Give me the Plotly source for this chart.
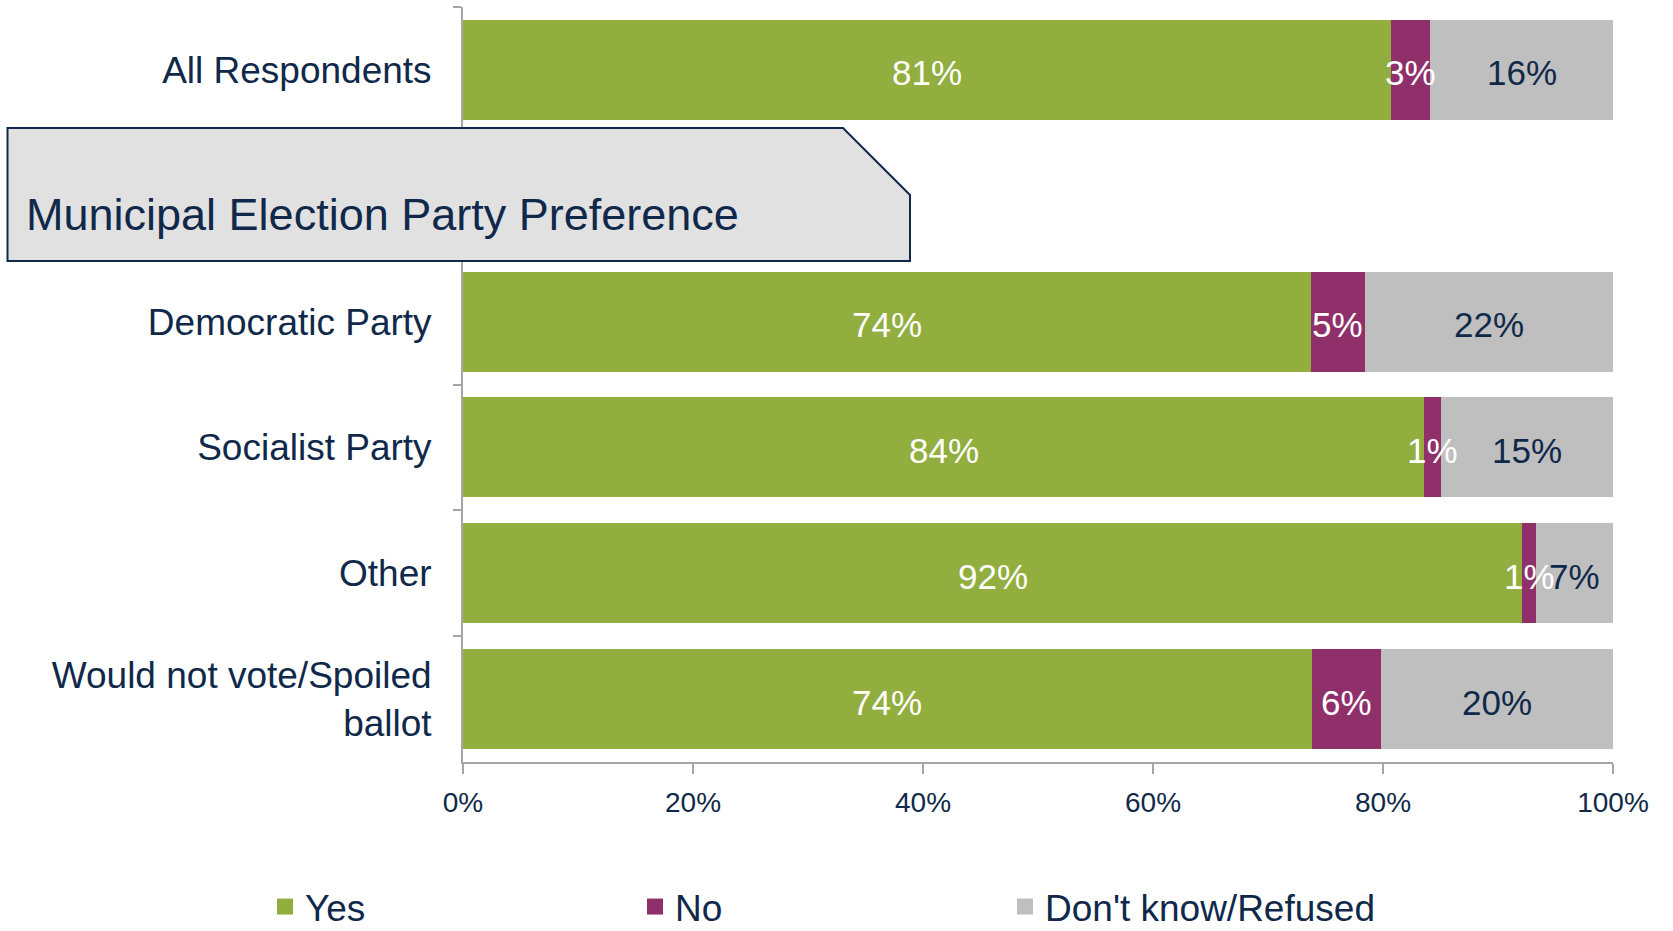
import plotly.graph_objects as go

# ---------------- data ----------------
categories = ["All Respondents", " ", "Democratic Party", "Socialist Party", "Other",
              "Would not vote/Spoiled<br>ballot"]
series_names = ["Yes", "No", "Don't know/Refused"]
yes_vals = [80.7, None, 73.7, 83.6, 92.1, 73.8]
no_vals = [3.4, None, 4.7, 1.4, 1.2, 6.0]
dk_vals = [15.9, None, 21.6, 15.0, 6.7, 20.2]
yes_labels = ["81%", "", "74%", "84%", "92%", "74%"]
no_labels = ["3%", "", "5%", "1%", "1%", "6%"]
dk_labels = ["16%", "", "22%", "15%", "7%", "20%"]
x_tickvals = [0, 20, 40, 60, 80, 100]
x_ticktext = ["0%", "20%", "40%", "60%", "80%", "100%"]
header_text = "Municipal Election Party Preference"

# ---------------- style ----------------
W, H = 1673, 931
PL, PR, PT, PB = 463, 1613, 7, 762  # plot area in pixels
NAVY = "#10294A"
GREEN = "#92AE3E"
PURPLE = "#8F306B"
GREY = "#BFBFBF"
AXIS_GREY = "#A6A6A6"
FONT = "Liberation Sans, Arial, sans-serif"


def fx(p):
    return (p - PL) / (PR - PL)


def fy(p):
    return (PB - p) / (PB - PT)


series = [
    (series_names[0], yes_vals, yes_labels, GREEN, "white"),
    (series_names[1], no_vals, no_labels, PURPLE, "white"),
    (series_names[2], dk_vals, dk_labels, GREY, NAVY),
]

fig = go.Figure()

# stacked bars
for name, vals, labels, col, tcol in series:
    fig.add_trace(go.Bar(
        y=categories, x=vals, name=name, orientation="h",
        marker=dict(color=col, line=dict(width=0)),
        showlegend=False, hoverinfo="skip",
    ))

# legend entries
for name, vals, labels, col, tcol in series:
    fig.add_trace(go.Scatter(
        x=[None], y=[None], mode="markers", name=name,
        marker=dict(symbol="square", size=16, color=col),
        showlegend=True, hoverinfo="skip",
    ))

# value labels drawn on top of all bars (centred in each segment)
base = [0.0 if v is not None else None for v in yes_vals]
for name, vals, labels, col, tcol in series:
    for i, v in enumerate(vals):
        if v is None:
            continue
        fig.add_annotation(
            x=base[i] + v / 2.0, y=categories[i], xref="x", yref="y",
            text=labels[i], showarrow=False, yshift=-3,
            xanchor="center", yanchor="middle",
            font=dict(family=FONT, size=35, color=tcol),
        )
        base[i] += v

fig.update_layout(
    width=W, height=H,
    barmode="stack", bargap=0.205,
    plot_bgcolor="white", paper_bgcolor="white",
    margin=dict(l=PL, r=W - PR, t=PT, b=H - PB, autoexpand=False),
    font=dict(family=FONT, color=NAVY),
    showlegend=True,
    legend=dict(
        orientation="h", xref="container", yref="container",
        x=265 / W, y=1 - 907 / H, xanchor="left", yanchor="middle",
        font=dict(family=FONT, size=37, color=NAVY),
        entrywidth=325, traceorder="normal", itemsizing="trace",
        bgcolor="rgba(0,0,0,0)",
    ),
    xaxis=dict(
        range=[0, 100], tickvals=x_tickvals, ticktext=x_ticktext,
        showgrid=False, zeroline=False,
        showline=True, linecolor=AXIS_GREY, linewidth=2,
        ticks="outside", ticklen=10, tickwidth=2, tickcolor=AXIS_GREY,
        ticklabelstandoff=4,
        tickfont=dict(family=FONT, size=28, color=NAVY),
        fixedrange=True,
    ),
    yaxis=dict(
        categoryorder="array", categoryarray=categories,
        autorange="reversed",
        showgrid=False, zeroline=False,
        showline=True, linecolor=AXIS_GREY, linewidth=2,
        ticks="outside", ticklen=8, tickwidth=2, tickcolor=AXIS_GREY,
        tickson="boundaries", ticklabelstandoff=22,
        tickfont=dict(family=FONT, size=37, color=NAVY),
        fixedrange=True,
    ),
)

# Header box with cut corner
path = "M {a},{t} L {b},{t} L {c},{m} L {c},{bt} L {a},{bt} Z".format(
    a=fx(7.5), b=fx(843), c=fx(910), t=fy(128), m=fy(195), bt=fy(261))
fig.add_shape(type="path", xref="paper", yref="paper", path=path,
              fillcolor="#E1E1E1", line=dict(color=NAVY, width=2), layer="above")
fig.add_annotation(xref="paper", yref="paper", x=fx(24), y=fy(214),
                   xanchor="left", yanchor="middle", showarrow=False,
                   text=header_text, font=dict(family=FONT, size=45, color=NAVY))

fig.write_html("out.html", config={"displayModeBar": False},
               post_script="document.body.style.margin='0';")
